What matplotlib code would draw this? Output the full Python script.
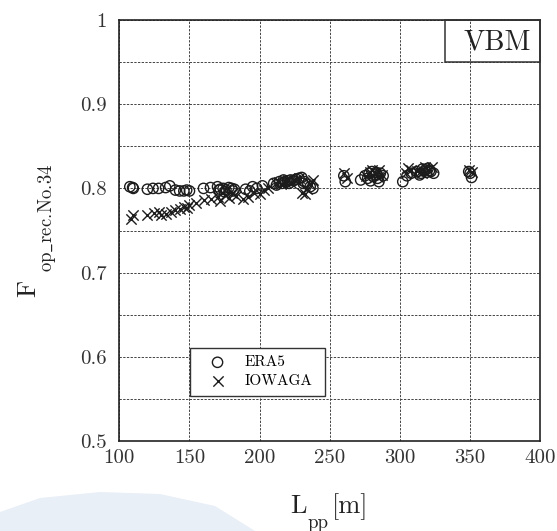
import matplotlib
matplotlib.use("Agg")
import matplotlib.pyplot as plt
from matplotlib.patches import Rectangle, Polygon

plt.rcParams["font.family"] = ["cmr10", "DejaVu Serif"]
plt.rcParams["mathtext.fontset"] = "cm"
plt.rcParams["axes.unicode_minus"] = False
plt.rcParams["axes.formatter.use_mathtext"] = True

# Operational reduction factor vs ship length (VBM)
era5_lpp = [107.5, 109.5, 110, 120, 124, 128, 133, 136, 140, 143, 146, 148, 150,
            160, 165, 170, 171, 172, 174, 175, 176, 178, 180, 181, 182, 190, 193, 195, 198, 202,
            210, 212, 214, 216, 217, 218, 220, 221, 222, 224, 226, 228, 230, 231, 232, 234, 236, 238,
            260, 261, 272, 275, 277, 278, 279, 280, 281, 282, 283, 284, 285, 286, 288,
            302, 305, 308, 312, 314, 315, 316, 318, 319, 320, 321, 322, 324, 349, 350, 351]
era5_f = [0.802, 0.801, 0.800, 0.799, 0.800, 0.800, 0.801, 0.803, 0.798, 0.797, 0.797, 0.798, 0.797,
          0.800, 0.801, 0.802, 0.798, 0.799, 0.800, 0.796, 0.798, 0.801, 0.800, 0.797, 0.799, 0.799, 0.797, 0.802, 0.800, 0.803,
          0.806, 0.804, 0.808, 0.806, 0.810, 0.808, 0.809, 0.806, 0.810, 0.809, 0.811, 0.812, 0.813, 0.806, 0.808, 0.805, 0.802, 0.800,
          0.815, 0.808, 0.810, 0.815, 0.812, 0.818, 0.809, 0.820, 0.814, 0.816, 0.819, 0.812, 0.808, 0.818, 0.815,
          0.808, 0.815, 0.818, 0.820, 0.816, 0.818, 0.823, 0.822, 0.819, 0.824, 0.821, 0.820, 0.818, 0.820, 0.818, 0.813]

iowaga_lpp = [108, 109.5, 120, 125, 128, 130, 133, 137, 140, 143, 146, 148, 150,
              155, 160, 165, 170, 172, 175, 178, 180, 183, 188, 192, 196, 200, 203, 206,
              212, 214, 215, 218, 220, 222, 225, 228, 230, 232, 234, 236, 238,
              260, 262, 276, 279, 280, 282, 284, 285, 287,
              304, 306, 308, 312, 314, 316, 318, 320, 323, 349, 351]
iowaga_f = [0.764, 0.768, 0.768, 0.771, 0.772, 0.769, 0.770, 0.772, 0.774, 0.776, 0.778, 0.777, 0.780,
            0.783, 0.786, 0.788, 0.790, 0.785, 0.792, 0.789, 0.794, 0.791, 0.787, 0.790, 0.795, 0.793, 0.798, 0.800,
            0.806, 0.808, 0.805, 0.808, 0.810, 0.807, 0.810, 0.812, 0.795, 0.793, 0.799, 0.805, 0.810,
            0.818, 0.812, 0.815, 0.820, 0.822, 0.818, 0.814, 0.822, 0.816,
            0.818, 0.824, 0.822, 0.821, 0.819, 0.818, 0.825, 0.822, 0.826, 0.822, 0.820]

x_ticks = [100, 150, 200, 250, 300, 350, 400]
y_ticks = [0.5, 0.6, 0.7, 0.8, 0.9, 1.0]
y_tick_labels = ["0.5", "0.6", "0.7", "0.8", "0.9", "1"]

W, H = 557, 531
fig = plt.figure(figsize=(W / 100, H / 100), dpi=100)
fig.patch.set_facecolor("white")


def px(x, y):
    return x / W, 1 - y / H


# faint background emblem (lower-left corner)
tint = "#e9eff7"
corner = [(0, 531), (0, 512), (40, 498), (100, 492), (160, 494), (215, 506), (255, 531)]
fig.patches.append(Polygon([px(*p) for p in corner], closed=True,
                           transform=fig.transFigure, facecolor=tint,
                           edgecolor="none", zorder=-5))

ax = fig.add_axes([119.3 / W, 1 - 441 / H, 421 / W, 421 / H])
ax.set_facecolor("none")
ax.set_zorder(2)

ink = "#1c1c1c"
ax.scatter(era5_lpp, era5_f, s=55, marker="o", facecolors="none",
           edgecolors=ink, linewidths=1.0, label="ERA5", zorder=3)
ax.scatter(iowaga_lpp, iowaga_f, s=55, marker="x", color=ink,
           linewidths=1.0, label="IOWAGA", zorder=3)

ax.set_xlim(100, 400)
ax.set_ylim(0.5, 1.0)
ax.set_xticks(x_ticks)
ax.set_xticklabels([str(v) for v in x_ticks])
ax.set_yticks(y_ticks)
ax.set_yticklabels(y_tick_labels)
ax.set_yticks([0.55, 0.65, 0.75, 0.85, 0.95], minor=True)
ax.tick_params(which="both", length=0, labelsize=15, colors="#333333")
ax.tick_params(axis="x", pad=6)
ax.tick_params(axis="y", pad=9)
ax.grid(True, which="both", color="#444444", linewidth=0.7,
        linestyle=(0, (2.4, 1.4)), zorder=1)
for sp in ax.spines.values():
    sp.set_color("#222222")
    sp.set_linewidth(1.2)
    sp.set_zorder(4)

# panel tag
ax.add_patch(Rectangle((0.773, 0.9), 0.227, 0.1, transform=ax.transAxes,
                       facecolor="none", edgecolor="#333333", linewidth=1.1,
                       zorder=5, clip_on=False))
ax.text(0.897, 0.948, "VBM", transform=ax.transAxes, ha="center", va="center",
        fontsize=20.5, color="#222222", zorder=6)

leg = ax.legend(loc="upper left", bbox_to_anchor=(0.168, 0.095, 0.32, 0.126),
                mode="expand", fontsize=11, frameon=True, fancybox=False,
                handlelength=2.6, handletextpad=0.45, borderpad=0.5,
                labelspacing=0.35, borderaxespad=0)
leg.get_frame().set_edgecolor("#333333")
leg.get_frame().set_linewidth(1.0)
leg.get_frame().set_facecolor("white")
leg.get_frame().set_alpha(1.0)

# axis labels
lab = "#222222"
fig.text(*px(290, 513), "L", fontsize=19, color=lab, ha="left", va="baseline")
fig.text(*px(307, 528), "pp", fontsize=13.5, color=lab, ha="left", va="baseline")
fig.text(*px(332, 513), "[m]", fontsize=19, color=lab, ha="left", va="baseline")

fig.text(*px(35, 297), "F", fontsize=19, color=lab, rotation=90,
         rotation_mode="anchor", ha="left", va="baseline")
fig.text(*px(52, 272), r"$\mathrm{op\_rec.\!No.\!34}$", fontsize=13.5, color=lab,
         rotation=90, rotation_mode="anchor", ha="left", va="baseline")

fig.savefig("out.png", dpi=100)
